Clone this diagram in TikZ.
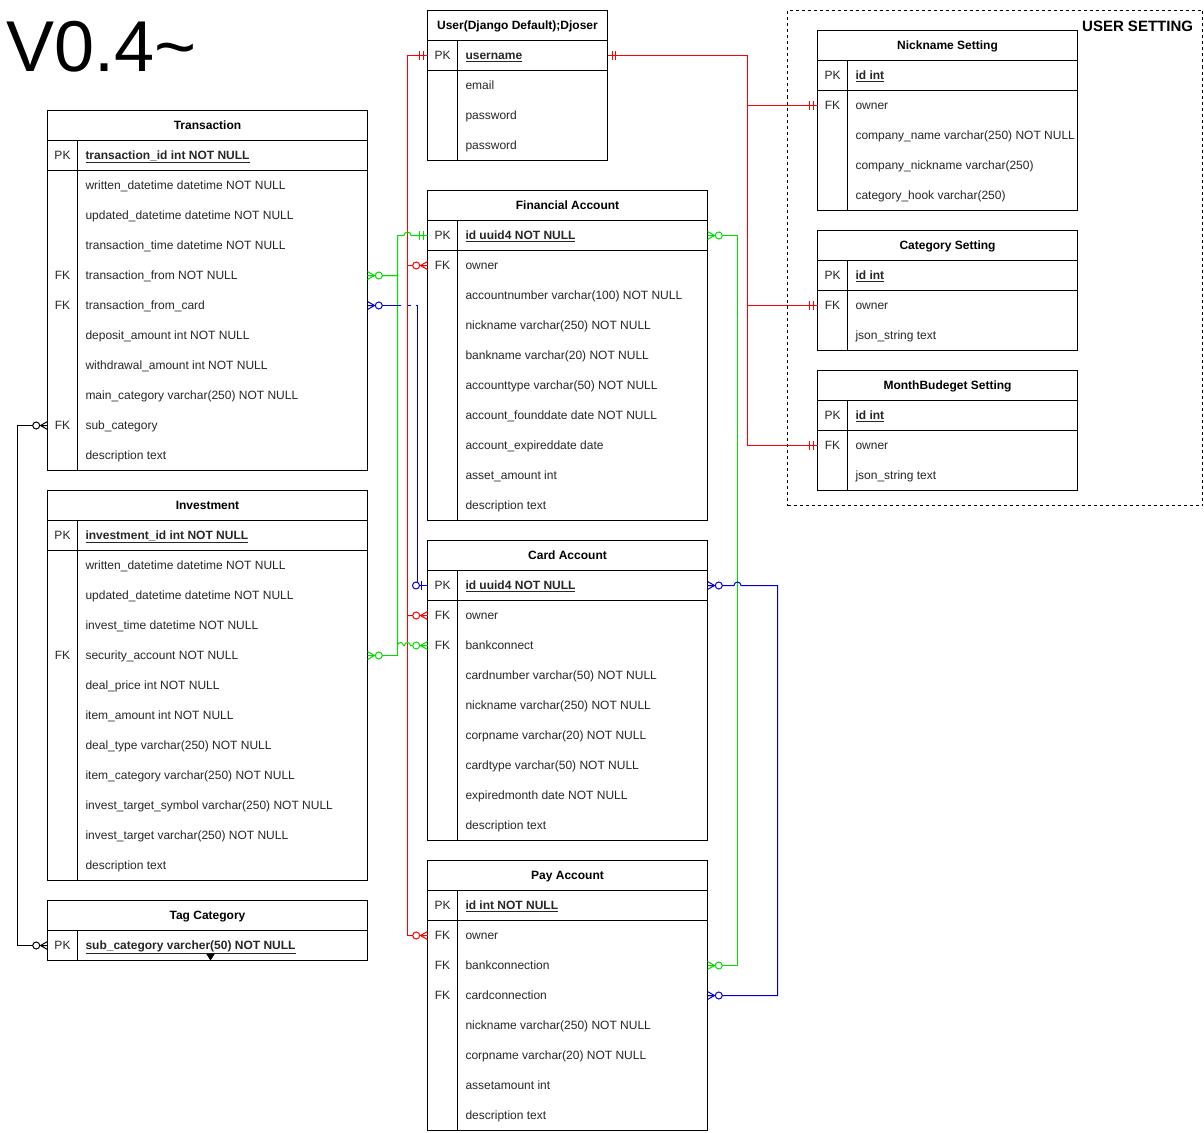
\documentclass[tikz,border=0pt]{standalone}
\usepackage{fontspec}
\setmainfont{Liberation Sans}
\usetikzlibrary{positioning,calc}

\definecolor{relred}{HTML}{FF0000}
\definecolor{relgreen}{HTML}{00DD00}
\definecolor{relblue}{HTML}{0000DD}
\definecolor{celltext}{HTML}{262626}

\newcommand{\fsz}{\fontsize{12}{14}\selectfont}
\newcommand{\pkf}[1]{\underline{\textbf{#1}}}
% one row of a table: name, x, y, field width, key, text
\newcommand{\erow}[6]{%
  \node[keycell] (#1-k) at (#2,#3) {#5};
  \node[fieldcell] (#1) at (#1-k.east) {\makebox[#4][l]{#6}};}
% outline of a table: name, number of rows
\newcommand{\erframe}[2]{%
  \draw (#1.north west) rectangle (#1-#2.south east);
  \draw (#1.south west) -- (#1.south east);
  \draw (#1-1-k.south west) -- (#1-1.south east);
  \draw (#1-1-k.north east) -- (#1-#2-k.south east);}

\tikzset{
  hdr/.style={anchor=north west, minimum height=30pt, inner sep=0pt, outer sep=0pt, text height=10pt, text depth=2pt, font=\fsz\bfseries},
  keycell/.style={anchor=west, minimum width=30pt, minimum height=30pt, inner sep=0pt, outer sep=0pt, text height=10pt, text depth=2pt, font=\fsz, text=celltext},
  fieldcell/.style={anchor=west, minimum height=30pt, inner xsep=8pt, inner ysep=0pt, outer sep=0pt, text height=10pt, text depth=2pt, font=\fsz, text=celltext},
  ermany/.pic={
    \draw (-7,0) -- (0,-4) (-7,0) -- (0,4) (-7,0) -- (0,0);
    \draw[fill=white] (-11.3,0) circle[radius=3.5];},
  erone/.pic={
    \draw (-4.5,-4.5) -- (-4.5,4.5) (-8,-4.5) -- (-8,4.5);},
  erzeroone/.pic={
    \draw (-6,-4.5) -- (-6,4.5);
    \draw[fill=white] (-11.5,0) circle[radius=3.5];},
}

\begin{document}
\begin{tikzpicture}[x=1pt, y=-1pt, line width=1pt]
\useasboundingbox (-0.5,-0.5) rectangle (1203.5,1131.5);

\node[anchor=base west, inner sep=0pt, font=\fontsize{72}{80}\selectfont] (title) at (5,71) {V0.4\textasciitilde};

% user setting group
\node[draw, dash pattern=on 3pt off 3pt, anchor=north west, minimum width=415pt, minimum height=495pt, inner sep=0pt, outer sep=0pt] (userset) at (787,10) {};
\node[anchor=base east, inner sep=0pt, font=\fontsize{15}{18}\selectfont\bfseries] (userset-t) at (1193,31) {USER SETTING};

% User
\node[hdr, minimum width=180pt] (us) at (427,10) {User(Django Default);Djoser};
\foreach \k/\f [count=\i, evaluate=\i as \yy using 25+30*\i] in {PK/\pkf{username}, /email, /password, /password}
  {\erow{us-\i}{427}{\yy}{134pt}{\k}{\f}}
\erframe{us}{4}

% Transaction
\node[hdr, minimum width=320pt] (tr) at (47,110) {Transaction};
\foreach \k/\f [count=\i, evaluate=\i as \yy using 125+30*\i] in {PK/\pkf{transaction\_id int NOT NULL},
    /written\_datetime datetime NOT NULL, /updated\_datetime datetime NOT NULL, /transaction\_time datetime NOT NULL,
    FK/transaction\_from NOT NULL, FK/transaction\_from\_card, /deposit\_amount int NOT NULL,
    /withdrawal\_amount int NOT NULL, /main\_category varchar(250) NOT NULL, FK/sub\_category, /description text}
  {\erow{tr-\i}{47}{\yy}{274pt}{\k}{\f}}
\erframe{tr}{11}

% Investment
\node[hdr, minimum width=320pt] (iv) at (47,490) {Investment};
\foreach \k/\f [count=\i, evaluate=\i as \yy using 505+30*\i] in {PK/\pkf{investment\_id int NOT NULL},
    /written\_datetime datetime NOT NULL, /updated\_datetime datetime NOT NULL, /invest\_time datetime NOT NULL,
    FK/security\_account NOT NULL, /deal\_price int NOT NULL, /item\_amount int NOT NULL,
    /deal\_type varchar(250) NOT NULL, /item\_category varchar(250) NOT NULL,
    /invest\_target\_symbol varchar(250) NOT NULL, /invest\_target varchar(250) NOT NULL, /description text}
  {\erow{iv-\i}{47}{\yy}{274pt}{\k}{\f}}
\erframe{iv}{12}

% Tag Category
\node[hdr, minimum width=320pt] (tg) at (47,900) {Tag Category};
\erow{tg-1}{47}{945}{274pt}{PK}{\pkf{sub\_category varcher(50) NOT NULL}}
\erframe{tg}{1}
\fill (205.5,953) -- (214.5,953) -- (210,960) -- cycle;

% Financial Account
\node[hdr, minimum width=280pt] (fa) at (427,190) {Financial Account};
\foreach \k/\f [count=\i, evaluate=\i as \yy using 205+30*\i] in {PK/\pkf{id uuid4 NOT NULL},
    FK/owner, /accountnumber varchar(100) NOT NULL, /nickname varchar(250) NOT NULL,
    /bankname varchar(20) NOT NULL, /accounttype varchar(50) NOT NULL, /account\_founddate date NOT NULL,
    /account\_expireddate date, /asset\_amount int, /description text}
  {\erow{fa-\i}{427}{\yy}{234pt}{\k}{\f}}
\erframe{fa}{10}

% Card Account
\node[hdr, minimum width=280pt] (cd) at (427,540) {Card Account};
\foreach \k/\f [count=\i, evaluate=\i as \yy using 555+30*\i] in {PK/\pkf{id uuid4 NOT NULL},
    FK/owner, FK/bankconnect, /cardnumber varchar(50) NOT NULL, /nickname varchar(250) NOT NULL,
    /corpname varchar(20) NOT NULL, /cardtype varchar(50) NOT NULL, /expiredmonth date NOT NULL, /description text}
  {\erow{cd-\i}{427}{\yy}{234pt}{\k}{\f}}
\erframe{cd}{9}

% Pay Account
\node[hdr, minimum width=280pt] (pa) at (427,860) {Pay Account};
\foreach \k/\f [count=\i, evaluate=\i as \yy using 875+30*\i] in {PK/\pkf{id int NOT NULL},
    FK/owner, FK/bankconnection, FK/cardconnection, /nickname varchar(250) NOT NULL,
    /corpname varchar(20) NOT NULL, /assetamount int, /description text}
  {\erow{pa-\i}{427}{\yy}{234pt}{\k}{\f}}
\erframe{pa}{8}

% settings
\node[hdr, minimum width=260pt] (ns) at (817,30) {Nickname Setting};
\foreach \k/\f [count=\i, evaluate=\i as \yy using 45+30*\i] in {PK/\pkf{id int}, FK/owner,
    /company\_name varchar(250) NOT NULL, /company\_nickname varchar(250), /category\_hook varchar(250)}
  {\erow{ns-\i}{817}{\yy}{214pt}{\k}{\f}}
\erframe{ns}{5}

\node[hdr, minimum width=260pt] (cs) at (817,230) {Category Setting};
\foreach \k/\f [count=\i, evaluate=\i as \yy using 245+30*\i] in {PK/\pkf{id int}, FK/owner, /json\_string text}
  {\erow{cs-\i}{817}{\yy}{214pt}{\k}{\f}}
\erframe{cs}{3}

\node[hdr, minimum width=260pt] (ms) at (817,370) {MonthBudeget Setting};
\foreach \k/\f [count=\i, evaluate=\i as \yy using 385+30*\i] in {PK/\pkf{id int}, FK/owner, /json\_string text}
  {\erow{ms-\i}{817}{\yy}{214pt}{\k}{\f}}
\erframe{ms}{3}

% relations: user
\draw[relred] (us-1.east) -- ++(140,0) |- (ns-2-k.west);
\draw[relred] (us-1.east) -- ++(140,0) |- (cs-2-k.west);
\draw[relred] (us-1.east) -- ++(140,0) |- (ms-2-k.west);
\draw[relred] (us-1-k.west) -- ++(-20,0) |- (fa-2-k.west);
\draw[relred] (us-1-k.west) -- ++(-20,0) |- (cd-2-k.west);
\draw[relred] (us-1-k.west) -- ++(-20,0) |- (pa-2-k.west);

% relations: financial account
\draw[relgreen] (fa-1-k.west) -- ++(-16.5,0) arc[start angle=0, end angle=-180, radius=3.5] -- ++(-6.5,0) |- (tr-5.east);
\draw[relgreen] (iv-5.east) -- ++(30,0) |- (tr-5.east);
\draw[relgreen] (cd-3-k.west) -- ++(-17,0) arc[start angle=0, end angle=-180, radius=3]
  -- ++(-1,0) arc[start angle=0, end angle=-180, radius=3] |- (tr-5.east);
\draw[relgreen] (fa-1.east) -- ++(30,0) |- (pa-3.east);

% relations: card account
\draw[relblue] (tr-6.east) -- ++(33,0) ++(7,0) -- ++(3,0) ++(5,0) -- ++(2,0) |- (cd-1-k.west);
\draw[relblue] (cd-1.east) -- ++(26.5,0) arc[start angle=180, end angle=360, radius=3.5] -- ++(36.5,0) |- (pa-4.east);

% relation: tag
\draw (tr-10-k.west) -- ++(-30,0) |- (tg-1-k.west);

% end marks
\pic[relred, rotate=180] at (us-1.east) {erone};
\pic[relred] at (us-1-k.west) {erone};
\pic[relred] at (ns-2-k.west) {erone};
\pic[relred] at (cs-2-k.west) {erone};
\pic[relred] at (ms-2-k.west) {erone};
\pic[relred] at (fa-2-k.west) {ermany};
\pic[relred] at (cd-2-k.west) {ermany};
\pic[relred] at (pa-2-k.west) {ermany};
\pic[relgreen] at (fa-1-k.west) {erone};
\pic[relgreen, rotate=180] at (tr-5.east) {ermany};
\pic[relgreen, rotate=180] at (iv-5.east) {ermany};
\pic[relgreen] at (cd-3-k.west) {ermany};
\pic[relgreen, rotate=180] at (fa-1.east) {ermany};
\pic[relgreen, rotate=180] at (pa-3.east) {ermany};
\pic[relblue, rotate=180] at (tr-6.east) {ermany};
\pic[relblue] at (cd-1-k.west) {erzeroone};
\pic[relblue, rotate=180] at (cd-1.east) {ermany};
\pic[relblue, rotate=180] at (pa-4.east) {ermany};
\pic at (tr-10-k.west) {ermany};
\pic at (tg-1-k.west) {ermany};
\end{tikzpicture}
\end{document}
